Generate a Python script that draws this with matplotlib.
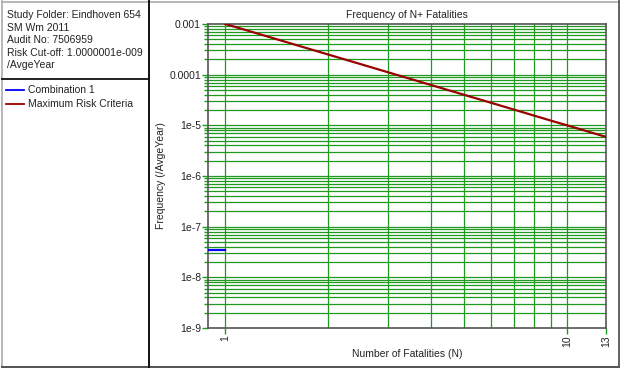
import matplotlib
matplotlib.use("Agg")
import matplotlib.pyplot as plt
from matplotlib.lines import Line2D
from matplotlib.ticker import FixedLocator, NullFormatter, LogLocator

plt.rcParams['font.family'] = ['Liberation Sans', 'DejaVu Sans']

# Data
n_criteria = [1, 2, 3, 4, 5, 6, 7, 8, 9, 10, 11, 12, 13]
f_criteria = [1.0e-3, 2.5e-4, 1.11e-4, 6.25e-5, 4.0e-5, 2.78e-5, 2.04e-5,
              1.56e-5, 1.23e-5, 1.0e-5, 8.26e-6, 6.94e-6, 5.92e-6]
n_combination = [0.89, 1]
f_combination = [3.5e-8, 3.5e-8]

info_lines = ["Study Folder: Eindhoven 654", "SM Wm 2011", "Audit No: 7506959",
              "Risk Cut-off: 1.0000001e-009", "/AvgeYear"]
legend_labels = ["Combination 1", "Maximum Risk Criteria"]
x_ticks = [1, 10, 13]
y_ticks = [1e-9, 1e-8, 1e-7, 1e-6, 1e-5, 1e-4, 1e-3]
y_ticklabels = ["1e-9", "1e-8", "1e-7", "1e-6", "1e-5", "0.0001", "0.001"]

W, H = 628, 374
fig = plt.figure(figsize=(W / 100, H / 100), dpi=100)

def px(x, y):
    return x / W, 1 - y / H

GREEN = '#1f9a1f'
FS = 7.5

ax = fig.add_axes([208 / W, 1 - 328 / H, (606 - 208) / W, (328 - 24) / H])
ax.set_xscale('log')
ax.set_yscale('log')
ax.set_xlim(0.89, 13)
ax.set_ylim(1e-9, 1e-3)

# grid lines
for xv in range(1, 11):
    ax.axvline(xv, color=GREEN, lw=0.9, zorder=1)
for d in range(-9, -3):
    for m in range(1, 10):
        v = m * 10.0 ** d
        if 1e-9 < v < 1e-3:
            ax.axhline(v, color=GREEN, lw=0.9, zorder=1)

ax.plot(n_criteria, f_criteria, color='#990000', lw=1.6, zorder=3)
ax.plot(n_combination, f_combination, color='#0000ff', lw=1.6, zorder=3)

ax.yaxis.set_major_locator(FixedLocator(y_ticks))
ax.set_yticklabels(y_ticklabels)
ax.yaxis.set_minor_locator(LogLocator(base=10, subs=range(2, 10)))
ax.yaxis.set_minor_formatter(NullFormatter())
ax.xaxis.set_major_locator(FixedLocator(x_ticks))
ax.set_xticklabels([str(v) for v in x_ticks], rotation=90)
ax.xaxis.set_minor_locator(FixedLocator([]))
ax.tick_params(axis='y', which='both', direction='out', color=GREEN, labelsize=FS,
               labelcolor='#222222', pad=1)
ax.tick_params(axis='y', which='major', length=4, width=1)
ax.tick_params(axis='y', which='minor', length=3, width=1)
ax.tick_params(axis='x', which='major', length=4, width=1, color=GREEN, labelsize=FS,
               labelcolor='#222222', pad=1)
for s in ax.spines.values():
    s.set_color('#555555')
    s.set_linewidth(1.2)

ax.set_title("Frequency of N+ Fatalities", fontsize=FS, color='#222222', pad=4.5)
fig.text(*px(407, 354), "Number of Fatalities (N)", fontsize=FS, color='#222222',
         ha='center', va='center')
fig.text(*px(161, 176), "Frequency (/AvgeYear)", fontsize=FS, color='#222222',
         ha='center', va='center', rotation=90)

# info panel text
for i, t in enumerate(info_lines):
    fig.text(*px(7, 15 + i * 12.6), t, fontsize=FS, color='#222222', ha='left', va='center')

# legend
leg_y = [90, 104]
leg_c = ['#0000ff', '#990000']
for y, lab, c in zip(leg_y, legend_labels, leg_c):
    fig.add_artist(Line2D([px(6, 0)[0], px(24, 0)[0]], [px(0, y)[1]] * 2, color=c, lw=1.3))
    fig.text(*px(28, y), lab, fontsize=FS, color='#222222', ha='left', va='center')

# frames
def hline(x0, x1, y, c, lw):
    fig.add_artist(Line2D([x0 / W, x1 / W], [1 - y / H] * 2, color=c, lw=lw))

def vline(x, y0, y1, c, lw):
    fig.add_artist(Line2D([x / W] * 2, [1 - y0 / H, 1 - y1 / H], color=c, lw=lw))

hline(2, 619, 1.5, '#aaaaaa', 1.2)
vline(2, 1, 367, '#aaaaaa', 1.2)
hline(2, 619, 367, '#444444', 1.3)
vline(619, 1, 367, '#555555', 1.3)
vline(149, 1, 367, '#111111', 1.4)
hline(2, 149, 79, '#111111', 1.3)

fig.savefig("out.png", dpi=100)
